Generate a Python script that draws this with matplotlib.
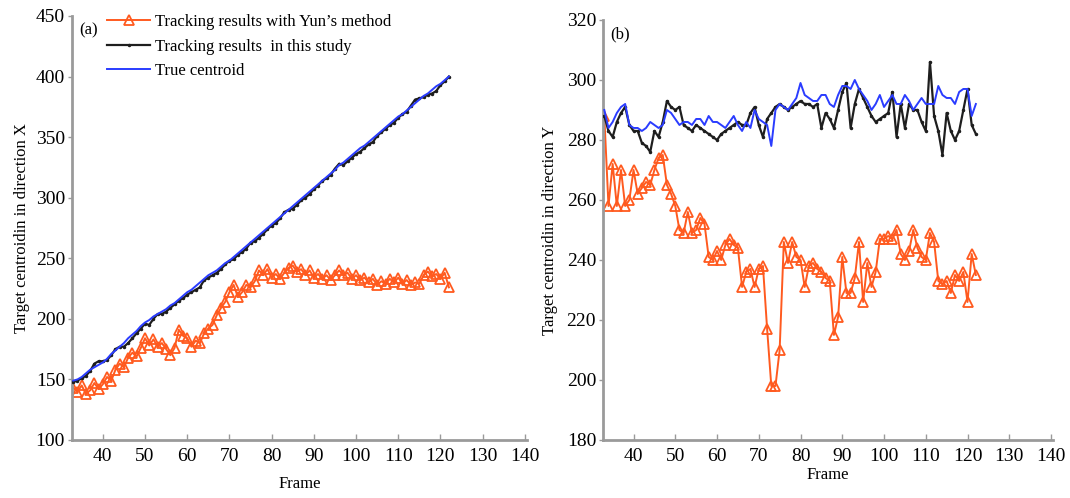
import matplotlib
matplotlib.use('Agg')
import matplotlib.pyplot as plt
import numpy as np

plt.rcParams['font.family'] = ['Liberation Serif', 'DejaVu Serif']

frames = np.arange(33, 123)

# (a) direction X
true_x = [149, 150, 152, 155, 158, 160, 162, 164, 167, 171, 174, 177, 180, 184, 187, 190, 194, 197,
          199, 202, 204, 206, 208, 211, 213, 216, 219, 222, 224, 227, 230, 233, 236, 238, 240, 243,
          246, 248, 251, 254, 257, 260, 263, 266, 269, 272, 275, 278, 281, 284, 287, 290, 293, 296,
          299, 302, 305, 308, 311, 314, 317, 320, 323, 327, 329, 332, 335, 338, 341, 343, 346, 349,
          352, 355, 358, 361, 364, 367, 369, 372, 375, 378, 381, 384, 386, 389, 392, 394, 397, 400]
ours_x = [148, 149, 151, 153, 157, 163, 165, 165, 166, 170, 175, 177, 177, 180, 184, 188, 192, 196,
          195, 200, 204, 204, 206, 209, 212, 215, 217, 220, 222, 224, 226, 232, 234, 236, 238, 241,
          245, 248, 249, 253, 255, 258, 263, 264, 267, 270, 274, 277, 279, 283, 288, 290, 291, 294,
          298, 300, 303, 307, 310, 314, 316, 319, 324, 328, 327, 330, 333, 336, 338, 341, 344, 346,
          351, 354, 357, 360, 362, 366, 369, 371, 376, 381, 382, 383, 385, 386, 388, 393, 396, 400]
yun_x = [143, 140, 145, 138, 141, 147, 142, 146, 152, 149, 158, 163, 160, 168, 172, 169, 176, 184,
         178, 183, 177, 180, 175, 170, 176, 191, 186, 184, 177, 182, 180, 188, 192, 195, 203, 209,
         214, 222, 228, 218, 222, 228, 226, 231, 240, 236, 241, 234, 237, 233, 238, 242, 244, 239,
         241, 236, 240, 234, 237, 233, 236, 232, 236, 240, 236, 238, 233, 236, 232, 234, 230, 233,
         228, 231, 229, 233, 230, 234, 229, 232, 228, 230, 229, 236, 239, 235, 237, 233, 238, 226]

# (b) direction Y
true_y = [290, 284, 286, 289, 291, 292, 285, 284, 284, 283, 284, 286, 285, 284, 285, 290, 289, 287,
          285, 286, 286, 285, 287, 287, 285, 288, 286, 286, 285, 284, 286, 288, 285, 283, 286, 284,
          290, 287, 286, 285, 278, 290, 292, 291, 290, 292, 294, 299, 295, 294, 293, 293, 295, 295,
          292, 291, 295, 298, 298, 297, 300, 297, 295, 293, 290, 292, 295, 291, 293, 295, 292, 292,
          295, 293, 290, 292, 294, 292, 292, 292, 298, 295, 294, 294, 292, 296, 297, 297, 288, 292]
ours_y = [288, 283, 281, 286, 289, 291, 285, 283, 283, 279, 278, 276, 283, 281, 286, 293, 291, 290,
          291, 285, 284, 283, 285, 284, 283, 282, 281, 280, 282, 283, 284, 285, 286, 285, 285, 289,
          291, 285, 281, 287, 289, 291, 292, 291, 290, 291, 292, 293, 292, 292, 291, 292, 284, 289,
          287, 284, 290, 296, 299, 284, 292, 297, 294, 291, 288, 286, 287, 288, 289, 296, 281, 292,
          284, 292, 290, 290, 286, 283, 306, 288, 283, 275, 289, 283, 280, 283, 290, 297, 285, 282]
yun_y = [288, 258, 272, 258, 270, 258, 260, 270, 262, 264, 266, 265, 270, 274, 275, 265, 262, 258,
         250, 249, 256, 249, 250, 254, 252, 241, 240, 243, 240, 245, 247, 245, 244, 231, 236, 237,
         231, 237, 238, 217, 198, 198, 210, 246, 239, 246, 241, 240, 231, 238, 239, 237, 236, 234,
         233, 215, 221, 241, 229, 229, 234, 246, 226, 239, 231, 236, 247, 247, 248, 247, 250, 242,
         240, 243, 250, 244, 241, 240, 249, 246, 233, 232, 233, 229, 235, 233, 236, 226, 242, 235]

labels = ['Tracking results with Yun\u2019s method', 'Tracking results  in this study', 'True centroid']
c_yun = '#ff5a1f'
c_ours = '#1e1e1e'
c_true = '#2a3cff'
spine_c = '#9a9a9a'

fig = plt.figure(figsize=(10.7, 4.98), dpi=100)
ax1 = fig.add_axes([0.0673, 0.1165, 0.4252, 0.8514])
ax2 = fig.add_axes([0.5636, 0.1165, 0.4206, 0.8434])


def style(ax):
    for s in ['top', 'right']:
        ax.spines[s].set_visible(False)
    for s in ['left', 'bottom']:
        ax.spines[s].set_color(spine_c)
        ax.spines[s].set_linewidth(2)
    ax.tick_params(axis='x', direction='in', length=4, width=1, color=spine_c, labelsize=14, pad=6)
    ax.tick_params(axis='y', direction='out', length=3, width=1, color=spine_c, labelsize=14, pad=2)
    ax.set_xlim(32.7, 140.5)
    ax.set_xticks(np.arange(40, 141, 10))


for ax, yun, ours, true in [(ax1, yun_x, ours_x, true_x), (ax2, yun_y, ours_y, true_y)]:
    ax.plot(frames, yun, color=c_yun, lw=1.4, marker='^', ms=6.5, mfc='none', mec=c_yun, mew=1.3,
            label=labels[0], zorder=2)
    ax.plot(frames, ours, color=c_ours, lw=1.6, marker='.', ms=3, label=labels[1], zorder=3)
    ax.plot(frames, true, color=c_true, lw=1.4, label=labels[2], zorder=4)
    style(ax)

ax1.set_ylim(100, 450)
ax1.set_yticks(np.arange(100, 451, 50))
ax2.set_ylim(180, 320)
ax2.set_yticks(np.arange(180, 321, 20))

ax1.set_xlabel('Frame', fontsize=12, labelpad=8)
ax2.set_xlabel('Frame', fontsize=12, labelpad=1)
ax1.set_ylabel('Target centroidin in direction X', fontsize=12, labelpad=4)
ax2.set_ylabel('Target centroidin in direction Y', fontsize=12, labelpad=6)

ax1.text(0.015, 0.965, '(a)', transform=ax1.transAxes, fontsize=12, va='center')
ax2.text(0.015, 0.965, '(b)', transform=ax2.transAxes, fontsize=12, va='center')

ax1.legend(loc='upper left', bbox_to_anchor=(0.062, 1.02), frameon=False, fontsize=12,
           handlelength=2.6, handletextpad=0.3, labelspacing=0.5, borderaxespad=0)

fig.savefig('out.png', dpi=100)
